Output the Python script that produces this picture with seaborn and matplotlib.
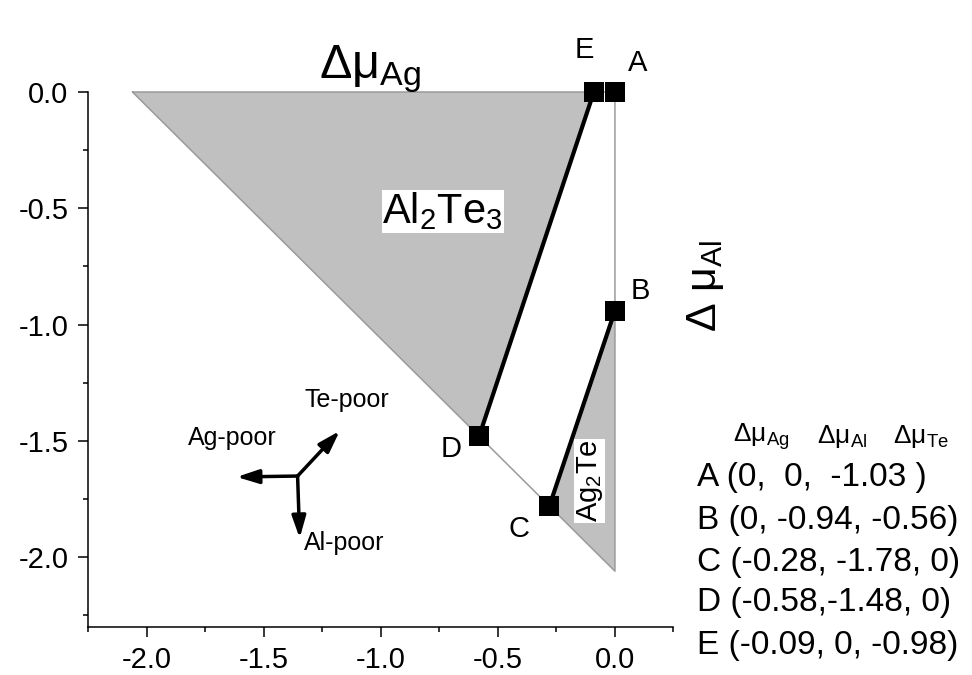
import matplotlib
matplotlib.use("Agg")
import matplotlib.pyplot as plt
import seaborn as sns
import pandas as pd

# Chemical-potential limits (eV) of the stable region
points = ["A", "B", "C", "D", "E"]
mu_ag = [0.0, 0.0, -0.28, -0.58, -0.09]
mu_al = [0.0, -0.94, -1.78, -1.48, 0.0]
mu_te = [-1.03, -0.56, 0.0, 0.0, -0.98]
# boundary  dmu_Ag + dmu_Al = dH
dH = -2.06

table_rows = [
    "A (0,  0,  -1.03 )",
    "B (0, -0.94, -0.56)",
    "C (-0.28, -1.78, 0)",
    "D (-0.58,-1.48, 0)",
    "E (-0.09, 0, -0.98)",
]
x_ticks = [-2.0, -1.5, -1.0, -0.5, 0.0]
y_ticks = [0.0, -0.5, -1.0, -1.5, -2.0]

sns.set_theme(style="ticks")
plt.rcParams["font.family"] = ["Liberation Sans", "DejaVu Sans"]
plt.rcParams["mathtext.fontset"] = "custom"
plt.rcParams["mathtext.rm"] = "Liberation Sans"
plt.rcParams["mathtext.it"] = "Liberation Sans:italic"
plt.rcParams["mathtext.bf"] = "Liberation Sans:bold"
plt.rcParams["text.color"] = "black"

df = pd.DataFrame({"pt": points, "ag": mu_ag, "al": mu_al, "te": mu_te}).set_index("pt")

fig = plt.figure(figsize=(9.72, 6.75), dpi=100)
ax = fig.add_axes([0.0905, 0.0711, 0.6024, 0.7926])

gray_fill = "#c0c0c0"
gray_line = "#9a9a9a"

# Al2Te3 region: corner (dH, 0), E, D
ax.fill([dH, df.loc["E", "ag"], df.loc["D", "ag"]],
        [0.0, df.loc["E", "al"], df.loc["D", "al"]],
        color=gray_fill, lw=0, zorder=1)
# Ag2Te region: B, C, corner (0, dH)
ax.fill([df.loc["B", "ag"], df.loc["C", "ag"], 0.0],
        [df.loc["B", "al"], df.loc["C", "al"], dH],
        color=gray_fill, lw=0, zorder=1)

# outer triangle boundary
tri = pd.DataFrame({"x": [dH, 0.0, 0.0, dH], "y": [0.0, 0.0, dH, 0.0]})
sns.lineplot(data=tri, x="x", y="y", sort=False, estimator=None,
             color=gray_line, lw=1.1, ax=ax, zorder=2)

# phase-boundary segments E-D and B-C
for a, b in [("E", "D"), ("B", "C")]:
    seg = df.loc[[a, b]].reset_index()
    sns.lineplot(data=seg, x="ag", y="al", sort=False, estimator=None,
                 color="black", lw=3.0, ax=ax, zorder=3)

sns.scatterplot(data=df.reset_index(), x="ag", y="al", marker="s", s=200,
                color="black", edgecolor="black", linewidth=0, ax=ax, zorder=4)

for art in ax.lines + ax.collections:
    art.set_clip_on(False)

# point labels
offsets = {"A": (16, 21), "B": (18, 14), "C": (-22, -16.5), "D": (-20, -9.5), "E": (-6.5, 30)}
for p in points:
    ax.annotate(p, (df.loc[p, "ag"], df.loc[p, "al"]), xytext=offsets[p],
                textcoords="offset points", ha="center", va="center", fontsize=21)

# phase labels
ax.text(-0.735, -0.513, r"Al$_{\mathrm{2}}$Te$_{\mathrm{3}}$", fontsize=30,
        ha="center", va="center", zorder=5,
        bbox=dict(facecolor="white", edgecolor="none", pad=0.5))
ax.text(-0.107, -1.672, r"Ag$_{\mathrm{2}}$Te", fontsize=21, rotation=90,
        ha="center", va="center", zorder=5,
        bbox=dict(facecolor="white", edgecolor="none", pad=0.5))

# axis titles
ax.text(-1.047, 0.10, r"Δμ$_{\mathrm{Ag}}$", fontsize=35, ha="center", va="center")
ax.text(0.385, -0.832, r"Δ μ$_{\mathrm{Al}}$", fontsize=31, rotation=90,
        ha="center", va="center")

# direction arrows
origin = (-1.355, -1.651)
arrow_tips = {"Ag-poor": (-1.615, -1.655), "Te-poor": (-1.175, -1.457), "Al-poor": (-1.346, -1.918)}
arrow_text = {"Ag-poor": (-1.632, -1.487), "Te-poor": (-1.145, -1.323), "Al-poor": (-1.154, -1.94)}
for name, tip in arrow_tips.items():
    ax.annotate("", xy=tip, xytext=origin,
                arrowprops=dict(arrowstyle="-|>,head_length=1.1,head_width=0.35",
                                color="black", lw=2.5, shrinkA=0, shrinkB=0))
    ax.text(*arrow_text[name], name, fontsize=18, ha="center", va="center")

# limits and ticks
ax.set_xlim(-2.25, 0.25)
ax.set_ylim(-2.30, 0.0)
ax.set_xticks(x_ticks)
ax.set_yticks(y_ticks)
ax.set_xticks([-2.25, -1.75, -1.25, -0.75, -0.25, 0.25], minor=True)
ax.set_yticks([-0.25, -0.75, -1.25, -1.75, -2.25], minor=True)
ax.set_xticklabels([f"{v:.1f}" for v in x_ticks])
ax.set_yticklabels([f"{v:.1f}" for v in y_ticks])
ax.tick_params(axis="both", which="major", direction="out", length=7, width=1.1,
               labelsize=21, color="black", labelcolor="black", pad=7)
ax.tick_params(axis="both", which="minor", direction="out", length=3.5, width=1.1,
               color="black")
ax.set_xlabel("")
ax.set_ylabel("")
for side in ["top", "right"]:
    ax.spines[side].set_visible(False)
for side in ["left", "bottom"]:
    ax.spines[side].set_color("black")
    ax.spines[side].set_linewidth(1.1)
ax.set_facecolor("white")

# table of limit points
fig.text(0.754, 0.353, r"Δμ$_{\mathrm{Ag}}$", fontsize=19, va="center", ha="left")
fig.text(0.841, 0.353, r"Δμ$_{\mathrm{Al}}$", fontsize=19, va="center", ha="left")
fig.text(0.919, 0.353, r"Δμ$_{\mathrm{Te}}$", fontsize=19, va="center", ha="left")
row_y = [0.292, 0.2296, 0.167, 0.1067, 0.0444]
for txt, yy in zip(table_rows, row_y):
    fig.text(0.717, yy, txt, fontsize=24, va="center", ha="left")

fig.savefig("out.png", dpi=100, facecolor="white")
